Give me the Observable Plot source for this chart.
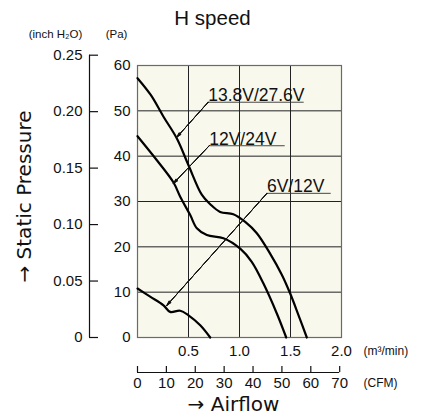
<!DOCTYPE html>
<html>
<head>
<meta charset="utf-8">
<script src="https://cdn.jsdelivr.net/npm/d3@7"></script>
<script src="https://cdn.jsdelivr.net/npm/@observablehq/plot@0.6"></script>
<style>
  html, body { margin: 0; padding: 0; background: #fff; }
  svg { display: block; }
</style>
</head>
<body>
<div id="chart"></div>
<script>
// ---- data (airflow in m³/min, static pressure in Pa) ----
const seriesNames = ["13.8V/27.6V", "12V/24V", "6V/12V"];
const flow138 = [0, 0.13, 0.255, 0.386, 0.5, 0.63, 0.713, 0.81, 0.94, 1.056, 1.17, 1.3, 1.416, 1.497, 1.579, 1.66];
const pres138 = [57.2, 53.5, 48.7, 43.9, 38.0, 31.5, 29.4, 27.7, 27.2, 25.5, 23.0, 18.5, 13.8, 9.7, 4.9, 0];
const flow12 = [0, 0.19, 0.353, 0.42, 0.517, 0.582, 0.68, 0.843, 1.007, 1.12, 1.235, 1.366, 1.458];
const pres12 = [44.4, 39.1, 34.2, 31.0, 27.0, 24.1, 22.6, 21.9, 19.6, 16.7, 11.9, 5.3, 0];
const flow6 = [0, 0.124, 0.255, 0.32, 0.418, 0.5, 0.615, 0.713];
const pres6 = [10.8, 9.0, 7.1, 5.65, 5.9, 4.9, 2.7, 0];

// leader labels
const labelX = [0.693, 0.703, 1.269];
const labelY = [51.9, 42.3, 31.8];
const underlineEndX = [1.634, 1.448, 1.899];
const tipX = [0.386, 0.353, 0.288];
const tipY = [44.2, 34.0, 7.1];

// ticks
const paTicks = [0, 10, 20, 30, 40, 50, 60];
const inchTicks = [0, 0.05, 0.10, 0.15, 0.20, 0.25];
const m3Ticks = [0.5, 1.0, 1.5, 2.0];
const cfmTicks = [0, 10, 20, 30, 40, 50, 60, 70];
const gridXValues = [0.5, 1.0, 1.5];
const gridYValues = [10, 20, 30, 40, 50];

const PA_PER_INH2O = 249.089;
const CFM_PER_M3 = 35.3147;

const rows = [];
[[flow138, pres138], [flow12, pres12], [flow6, pres6]].forEach(([fx, py], i) => {
  fx.forEach((f, j) => rows.push({series: seriesNames[i], flow: f, pa: py[j]}));
});
const labels = seriesNames.map((name, i) => ({
  name, x: labelX[i], y: labelY[i], x2: underlineEndX[i], tx: tipX[i], ty: tipY[i]
}));

const sans = "'Liberation Sans', Arial, sans-serif";
const dejavu = "'DejaVu Sans', sans-serif";

const arrowAngles = [8, 16, 24, 32];

const chart = Plot.plot({
  width: 431,
  height: 417,
  marginLeft: 137,
  marginRight: 90,
  marginTop: 65,
  marginBottom: 80,
  style: {fontFamily: sans, fontSize: "15px", color: "#111", background: "#fff"},
  x: {domain: [0, 2], label: null},
  y: {domain: [0, 60], label: null},
  marks: [
    Plot.frame({fill: "#f9f8ec", stroke: null}),
    Plot.gridX(gridXValues, {stroke: "#222", strokeOpacity: 1, strokeWidth: 1}),
    Plot.gridY(gridYValues, {stroke: "#222", strokeOpacity: 1, strokeWidth: 1}),
    Plot.frame({stroke: "#6a6a6a", strokeWidth: 1.2}),

    // Pa axis labels
    Plot.axisY(paTicks, {anchor: "left", tickSize: 0, tickPadding: 7, fontSize: 15, label: null}),
    // inch H2O secondary axis
    Plot.ruleX([0], {y1: 0, y2: 0.25 * PA_PER_INH2O, dx: -48, stroke: "#111", strokeWidth: 1.2}),
    Plot.axisY(inchTicks.map(v => v * PA_PER_INH2O), {anchor: "left", tickSize: -9, dx: -48, fill: "none", stroke: "#111", strokeWidth: 1.2, label: null}),
    Plot.text(inchTicks, {y: v => v * PA_PER_INH2O, frameAnchor: "left", dx: -55, textAnchor: "end", lineAnchor: "middle",
      text: v => v === 0 ? "0" : v.toFixed(2), fontSize: 15}),

    // m3/min labels
    Plot.axisX(m3Ticks, {anchor: "bottom", tickSize: 0, tickPadding: 8, fontSize: 15, tickFormat: d => d.toFixed(1), label: null}),
    Plot.text(["(m³/min)"], {frameAnchor: "bottom-right", dx: 22, dy: 14, textAnchor: "start", lineAnchor: "middle", fontSize: 12}),

    // CFM secondary axis
    Plot.ruleY([0], {x1: 0, x2: 70 / CFM_PER_M3, dy: 35, stroke: "#111", strokeWidth: 1.2}),
    Plot.axisX(cfmTicks.map(c => c / CFM_PER_M3), {anchor: "bottom", tickSize: -6, dy: 35, fill: "none", stroke: "#111", strokeWidth: 1.2, label: null}),
    Plot.text(cfmTicks, {x: c => c / CFM_PER_M3, frameAnchor: "bottom", dy: 46, lineAnchor: "middle", text: c => String(c), fontSize: 15}),
    Plot.text(["(CFM)"], {frameAnchor: "bottom-right", dx: 22, dy: 46, textAnchor: "start", lineAnchor: "middle", fontSize: 12}),

    // unit headers
    Plot.text(["(inch H₂O)"], {frameAnchor: "top-left", dx: -82, dy: -31, textAnchor: "middle", lineAnchor: "middle", fontSize: 11.5}),
    Plot.text(["(Pa)"], {frameAnchor: "top-left", dx: -21, dy: -31, textAnchor: "middle", lineAnchor: "middle", fontSize: 11.5}),

    // titles
    Plot.text(["H speed"], {frameAnchor: "top", dx: -27, dy: -47, lineAnchor: "middle", fontSize: 20.5}),
    Plot.text(["→ Airflow"], {frameAnchor: "bottom", dx: -6, dy: 67, lineAnchor: "middle", fontSize: 20, fontFamily: dejavu}),
    Plot.text(["→ Static Pressure"], {frameAnchor: "left", dx: -113, dy: -5, rotate: -90, textAnchor: "middle", lineAnchor: "middle", fontSize: 20, fontFamily: dejavu}),

    // curves
    Plot.line(rows, {x: "flow", y: "pa", z: "series", stroke: "#000", strokeWidth: 2.2, curve: "catmull-rom"}),

    // leaders
    Plot.ruleY(labels, {x1: "x", x2: "x2", y: "y", stroke: "#333", strokeWidth: 0.9}),
    ...arrowAngles.map(a => Plot.arrow(labels, {x1: "x", y1: "y", x2: "tx", y2: "ty", stroke: "#111", strokeWidth: 0.9, headLength: 8, headAngle: a})),
    Plot.text(labels, {x: "x", y: "y", text: "name", textAnchor: "start", lineAnchor: "bottom", dy: -1, fontSize: 17.5})
  ]
});
document.getElementById("chart").appendChild(chart);
</script>
</body>
</html>
